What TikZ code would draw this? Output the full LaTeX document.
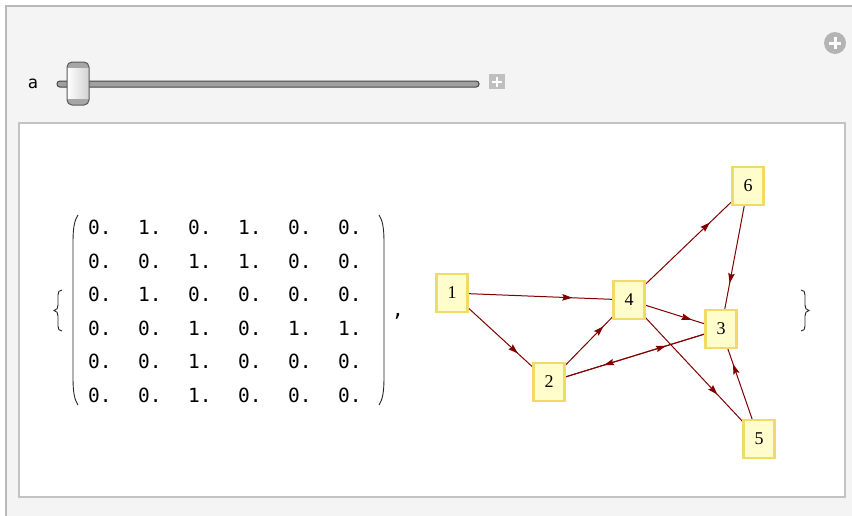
\documentclass[tikz,border=0pt]{standalone}
\usepackage{fontspec}
\newfontfamily\monof{DejaVu Sans Mono}
\newfontfamily\seriff{Liberation Serif}
\newfontfamily\sansf{DejaVu Sans Mono}
\usetikzlibrary{arrows.meta,decorations.markings}
\definecolor{edgered}{RGB}{128,0,0}
\definecolor{nodefill}{RGB}{255,253,204}
\definecolor{nodeborder}{RGB}{242,218,104}
\definecolor{panelgray}{RGB}{244,244,244}
\definecolor{framegray}{RGB}{185,185,185}
\definecolor{innergray}{RGB}{195,195,195}
\definecolor{iconfill}{RGB}{180,180,180}
\definecolor{trackfill}{RGB}{160,160,160}
\definecolor{trackline}{RGB}{70,70,70}
\pgfdeclarelayer{bg}
\pgfdeclarelayer{edges}
\pgfsetlayers{bg,edges,main}
\begin{document}
\begin{tikzpicture}[x=1pt,y=-1pt,
  vnode/.style={draw=nodeborder, fill=nodefill, line width=2.6pt, minimum width=31pt, minimum height=38pt, inner sep=0pt, font=\seriff\fontsize{18}{18}\selectfont},
  dedge/.style={draw=edgered, line width=1pt, postaction={decorate},
    decoration={markings, mark=at position 0.68 with {\arrow{Stealth[length=10pt,width=6.5pt,inset=1.5pt]}}}},
  cell/.style={font=\monof\fontsize{19.5}{19.5}\selectfont, inner sep=0pt, anchor=base west},
  delim/.style={draw=black!85, line width=0.9pt},
]
\useasboundingbox (0,0) rectangle (852,515);
\begin{pgfonlayer}{bg}
  \fill[white] (0,0) rectangle (852,515);
  \filldraw[fill=panelgray, draw=framegray, line width=2pt] (6,6) rectangle (862,525);
  \filldraw[fill=white, draw=innergray, line width=2pt] (19,123) rectangle (845,497);
\end{pgfonlayer}

% slider
\node[font=\sansf\fontsize{17}{17}\selectfont, anchor=base, inner sep=0pt] (alabel) at (33,88) {a};
\filldraw[fill=trackfill, draw=trackline, line width=1pt, rounded corners=2.8pt] (57,81) rectangle (479,87);
\begin{scope}
  \clip[rounded corners=5pt] (67,62) rectangle (89,105);
  \shade[left color=white, right color=black!18] (67,62) rectangle (89,105);
  \fill[black!35] (67,62) rectangle (89,68);
  \fill[black!35] (67,99) rectangle (89,105);
\end{scope}
\draw[draw=black!65, line width=1pt, rounded corners=5pt] (67,62) rectangle (89,105);
\fill[black!25] (489,74) rectangle (505,89);
\draw[white, line width=2pt] (492,81.5) -- (502,81.5) (497,76.5) -- (497,86.5);
\fill[iconfill] (835,43) circle (11);
\draw[white, line width=3pt] (829,43) -- (841,43) (835,37) -- (835,49);

% matrix
\foreach \row [count=\i] in {{0.,1.,0.,1.,0.,0.},{0.,0.,1.,1.,0.,0.},{0.,1.,0.,0.,0.,0.},{0.,0.,1.,0.,1.,1.},{0.,0.,1.,0.,0.,0.},{0.,0.,1.,0.,0.,0.}}{
  \foreach \v [count=\j] in \row {
    \node[cell] (c\i\j) at ({88+50*(\j-1)},{234.5+33.6*(\i-1)}) {\v};
  }
}
\draw[delim] (78,215) .. controls (74.5,220) and (73,228) .. (73,242) -- (73,378) .. controls (73,392) and (74.5,400) .. (78,405);
\draw[delim] (379,215) .. controls (382.5,220) and (384,228) .. (384,242) -- (384,378) .. controls (384,392) and (382.5,400) .. (379,405);
\draw[delim] (62,290) .. controls (59,290) and (58,292) .. (58,295) -- (58,305) .. controls (58,308) and (57,310) .. (54,310.5) .. controls (57,311) and (58,313) .. (58,316) -- (58,326) .. controls (58,329) and (59,331) .. (62,331);
\draw[delim] (801,290) .. controls (804,290) and (805,292) .. (805,295) -- (805,305) .. controls (805,308) and (806,310) .. (809,310.5) .. controls (806,311) and (805,313) .. (805,316) -- (805,326) .. controls (805,329) and (804,331) .. (801,331);
\node[font=\monof\fontsize{20}{20}\selectfont, anchor=base, inner sep=0pt] (comma) at (398,316) {,};

% graph
\node[vnode] (n1) at (452,293) {1};
\node[vnode] (n2) at (549,382) {2};
\node[vnode] (n3) at (721,329) {3};
\node[vnode] (n4) at (629,300) {4};
\node[vnode] (n5) at (759,439) {5};
\node[vnode] (n6) at (748,186) {6};
\begin{pgfonlayer}{edges}
  \draw[dedge] (n1.center) -- (n2.center);
  \draw[dedge] (n1.center) -- (n4.center);
  \draw[dedge] (n2.center) -- (n3.center);
  \draw[dedge] (n2.center) -- (n4.center);
  \draw[dedge] (n3.center) -- (n2.center);
  \draw[dedge] (n4.center) -- (n3.center);
  \draw[dedge] (n4.center) -- (n5.center);
  \draw[dedge] (n4.center) -- (n6.center);
  \draw[dedge] (n5.center) -- (n3.center);
  \draw[dedge] (n6.center) -- (n3.center);
\end{pgfonlayer}
\end{tikzpicture}
\end{document}
